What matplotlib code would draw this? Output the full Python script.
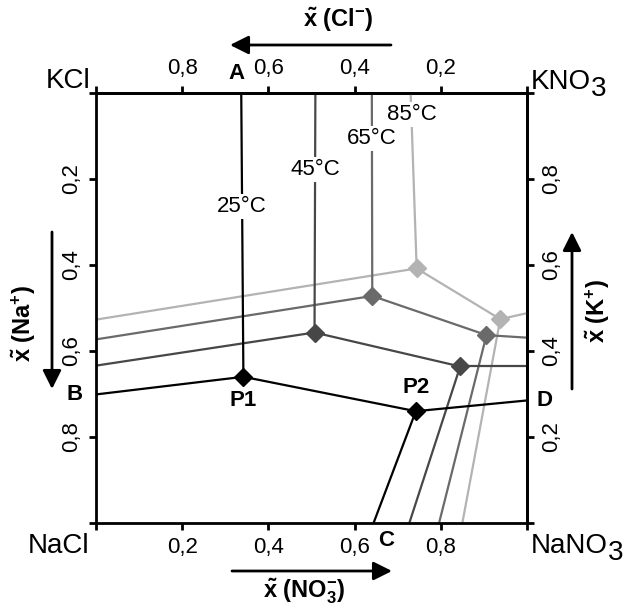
import matplotlib
matplotlib.use("Agg")
import matplotlib.pyplot as plt

plt.rcParams['font.family'] = ['Liberation Sans', 'DejaVu Sans']
plt.rcParams['mathtext.fontset'] = 'custom'
plt.rcParams['mathtext.rm'] = 'Liberation Sans'
plt.rcParams['mathtext.bf'] = 'Liberation Sans:bold'
plt.rcParams['mathtext.it'] = 'Liberation Sans:italic'

# Isotherms of the reciprocal system Na+, K+ || Cl-, NO3-
# x = mole fraction of NO3- (left -> right), y = mole fraction of Na+ (top -> bottom)
temps = ['25°C', '45°C', '65°C', '85°C']
colors = ['#000000', '#474747', '#6a6a6a', '#b3b3b3']

top_x = [0.337, 0.509, 0.640, 0.730]      # KCl/KNO3 boundary on the upper edge
left_na = [0.701, 0.634, 0.573, 0.527]    # KCl/NaCl boundary on the left edge
right_na = [0.715, 0.636, 0.569, 0.512]   # KNO3/NaNO3 boundary on the right edge
bottom_x = [0.644, 0.727, 0.796, 0.850]   # NaCl/NaNO3 boundary on the lower edge
p1_x = [0.342, 0.507, 0.641, 0.744]
p1_na = [0.660, 0.557, 0.472, 0.408]
p2_x = [0.742, 0.845, 0.906, 0.938]
p2_na = [0.740, 0.636, 0.563, 0.526]

# temperature label positions along the upper branch
label_na = [0.265, 0.179, 0.105, 0.051]

tick_vals = [0, 0.2, 0.4, 0.6, 0.8, 1]
tick_text = ['', '0,2', '0,4', '0,6', '0,8', '']

W, H = 627, 606
fig = plt.figure(figsize=(W / 100, H / 100), dpi=100)
ax = fig.add_axes([96 / W, 1 - 523 / H, 431 / W, 430 / H])
ax.set_xlim(0, 1)
ax.set_ylim(1, 0)

for i in reversed(range(len(temps))):
    c = colors[i]
    z = 3 + (len(temps) - i)
    kw = dict(color=c, lw=1.6, zorder=z, solid_capstyle='butt')
    ax.plot([top_x[i], p1_x[i]], [0, p1_na[i]], **kw)
    ax.plot([0, p1_x[i]], [left_na[i], p1_na[i]], **kw)
    ax.plot([p1_x[i], p2_x[i]], [p1_na[i], p2_na[i]], **kw)
    ax.plot([p2_x[i], 1], [p2_na[i], right_na[i]], **kw)
    ax.plot([p2_x[i], bottom_x[i]], [p2_na[i], 1], **kw)
    ax.plot([p1_x[i], p2_x[i]], [p1_na[i], p2_na[i]], ls='none', marker='D',
            ms=9, color=c, zorder=z + 0.5)
    lx = top_x[i] + (p1_x[i] - top_x[i]) * label_na[i] / p1_na[i]
    ax.text(lx, label_na[i], temps[i], fontsize=16, ha='center', va='center',
            zorder=20, bbox=dict(facecolor='white', edgecolor='none', pad=1.5))

for s in ax.spines.values():
    s.set_linewidth(2.0)
    s.set_zorder(30)

tick_kw = dict(direction='out', length=5, width=2.0, labelsize=16, pad=5)
ax.set_xticks(tick_vals)
ax.set_xticklabels(tick_text)
ax.set_yticks(tick_vals)
ax.set_yticklabels(tick_text, rotation=90, va='center')
ax.tick_params(axis='both', **tick_kw)

inv = (lambda v: 1 - v, lambda v: 1 - v)
sec_top = ax.secondary_xaxis('top', functions=inv)
sec_top.set_xticks(tick_vals)
sec_top.set_xticklabels(tick_text)
sec_top.tick_params(**tick_kw)
sec_top.spines['top'].set_linewidth(2.0)

sec_right = ax.secondary_yaxis('right', functions=inv)
sec_right.set_yticks(tick_vals)
sec_right.set_yticklabels(tick_text, rotation=90, va='center')
sec_right.tick_params(**tick_kw)
sec_right.spines['right'].set_linewidth(2.0)

# point labels
bold = dict(fontsize=16, fontweight='bold', zorder=25)
ax.text(0.345, -0.022, 'A', ha='right', va='bottom', **bold)
ax.text(-0.03, 0.701, 'B', ha='right', va='center', **bold)
ax.text(0.655, 1.04, 'C', ha='left', va='center', **bold)
ax.text(1.022, 0.716, 'D', ha='left', va='center', **bold)
ax.text(p1_x[0], p1_na[0] + 0.055, 'P1', ha='center', va='center', **bold)
ax.text(p2_x[0], p2_na[0] - 0.055, 'P2', ha='center', va='center', **bold)


def fx(px):
    return px / W


def fy(py):
    return 1 - py / H


# corner salts
corner = dict(fontsize=20, va='baseline')
fig.text(fx(91), fy(88), 'KCl', ha='right', **corner)
fig.text(fx(89), fy(553), 'NaCl', ha='right', **corner)
t_k = fig.text(fx(531), fy(89), 'KNO', ha='left', **corner)
t_na = fig.text(fx(531), fy(553), 'NaNO', ha='left', **corner)
fig.canvas.draw()
for t in (t_k, t_na):
    bb = t.get_window_extent()
    x0, y0 = t.get_position()
    fig.text(bb.x1 / W, y0 - 7 / H, '3', ha='left', **corner)

# axis titles with direction arrows
lab = dict(fontsize=17, ha='center', va='center')
arrow = dict(arrowstyle='-|>', lw=2.0, color='black', mutation_scale=28,
             shrinkA=0, shrinkB=0)
fig.text(fx(338), fy(20), r'$\mathbf{\tilde{x}\ (Cl^{-})}$', **lab)
fig.add_artist(matplotlib.patches.FancyArrowPatch(
    (fx(391), fy(45)), (fx(230), fy(45)), transform=fig.transFigure, **arrow))

fig.text(fx(304), fy(591), r'$\mathbf{\tilde{x}\ (NO_3^{-})}$', **lab)
fig.add_artist(matplotlib.patches.FancyArrowPatch(
    (fx(232), fy(571)), (fx(392), fy(571)), transform=fig.transFigure, **arrow))

fig.text(fx(24), fy(323), r'$\mathbf{\tilde{x}\ (Na^{+})}$', rotation=90, **lab)
fig.add_artist(matplotlib.patches.FancyArrowPatch(
    (fx(52), fy(232)), (fx(52), fy(389)), transform=fig.transFigure, **arrow))

fig.text(fx(598), fy(311), r'$\mathbf{\tilde{x}\ (K^{+})}$', rotation=90, **lab)
fig.add_artist(matplotlib.patches.FancyArrowPatch(
    (fx(572), fy(389)), (fx(572), fy(232)), transform=fig.transFigure, **arrow))

fig.savefig('out.png', dpi=100)
